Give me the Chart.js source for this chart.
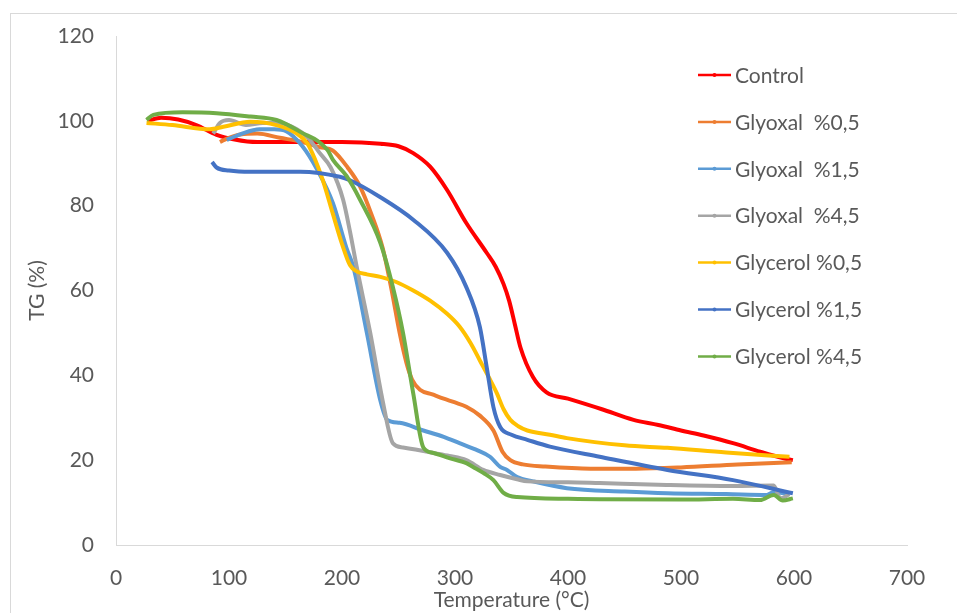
<!DOCTYPE html>
<html>
<head>
<meta charset="utf-8">
<script src="https://cdn.jsdelivr.net/npm/chart.js@4/dist/chart.umd.min.js"></script>
<style>
  html, body { margin: 0; padding: 0; background: #fff; }
  #wrap { position: relative; width: 957px; height: 613px; }
  #frame { position: absolute; left: 10px; top: 13px; width: 960px; height: 620px; border: 1px solid #d9d9d9; box-sizing: border-box; }
  canvas { position: absolute; left: 0; top: 0; }
</style>
</head>
<body>
<div id="wrap">
  <div id="frame"></div>
  <canvas id="tgChart" width="957" height="613"></canvas>
</div>
<script>
const seriesNames = ["Control", "Glyoxal  %0,5", "Glyoxal  %1,5", "Glyoxal  %4,5", "Glycerol %0,5", "Glycerol %1,5", "Glycerol %4,5"];
const seriesColors = ["#ff0000", "#ed7d31", "#5b9bd5", "#a5a5a5", "#ffc000", "#4472c4", "#70ad47"];

const controlT = [28, 40, 55, 71, 89, 105, 125, 150, 200, 234, 250, 263, 278, 293, 310, 328, 336, 343, 348, 353, 358, 369, 381, 400, 430, 458, 480, 500, 520, 546, 570, 590, 599];
const controlTG = [100, 100.7, 100.3, 99, 96.7, 95.6, 95, 95, 95, 94.6, 94, 92.4, 89.2, 83.7, 75.9, 68.9, 65.6, 61.5, 57.5, 52, 46.5, 39.6, 36, 34.5, 32, 29.5, 28.3, 27, 25.8, 24, 22, 20.5, 20];

const glyoxal05T = [92, 100, 110, 125, 145, 165, 180, 192, 205, 216, 226, 236, 244, 251, 257, 262, 269, 280, 290, 300, 310, 322, 334, 342, 349, 360, 380, 420, 460, 500, 550, 598];
const glyoxal05TG = [95, 96, 96.8, 97, 96, 95, 93.8, 93, 89, 84.5, 78, 70, 60, 50, 43, 39, 36.6, 35.5, 34.5, 33.6, 32.6, 30.5, 27, 22, 20, 19, 18.5, 18, 18, 18.3, 19, 19.5];

const glyoxal15T = [98, 110, 127, 140, 151, 165, 178, 192, 204, 210, 222, 234, 240, 251, 272, 290, 304, 320, 331, 340, 346, 355, 369, 399, 450, 488, 540, 576, 582, 595];
const glyoxal15TG = [95.5, 96.8, 98, 98, 97.5, 94, 88.5, 80.6, 70, 65.6, 50, 34, 29.5, 28.8, 27, 25.5, 24, 22.3, 20.8, 18.4, 17.7, 16, 15, 13.4, 12.6, 12.2, 12, 11.8, 12.5, 12];

const glyoxal45T = [86, 92, 100, 115, 130, 145, 160, 170, 180, 190, 201, 207, 213, 225, 236, 245, 254, 265, 281, 295, 310, 325, 340, 355, 364, 400, 428, 480, 546, 582, 588, 596];
const glyoxal45TG = [97, 99.5, 100.2, 99, 99.5, 99.5, 98, 96, 92.5, 89, 81.4, 74, 65.6, 50, 34, 24, 23, 22.5, 21.7, 21, 20, 17.7, 16.5, 15.5, 15, 14.8, 14.6, 14.2, 13.9, 14, 11, 12];

const glycerol05T = [27, 50, 83, 95, 119, 142, 160, 169, 176, 183, 192, 200, 207, 213, 222, 234, 248, 263, 278, 293, 304, 314, 322, 330, 337, 343, 349, 356, 364, 384, 399, 450, 488, 540, 596];
const glycerol05TG = [99.5, 99, 98, 98.6, 99.8, 99, 97, 94.8, 91, 86, 78, 71, 66, 64.5, 63.8, 63.2, 62, 60, 57.6, 54.5, 51.5, 47.5, 43.5, 39.5, 35.8, 32, 29.5, 28, 27, 26, 25.2, 23.5, 22.9, 21.8, 20.8];

const glycerol15T = [85, 89, 100, 119, 163, 198, 207, 234, 263, 293, 310, 322, 328, 334, 340, 350, 364, 384, 428, 488, 546, 599];
const glycerol15TG = [90.3, 89, 88.3, 88, 88, 86.8, 86, 82, 76.7, 68.9, 60.8, 51.4, 42, 32.5, 27.8, 26, 24.8, 23.2, 20.8, 17.7, 15.3, 12.2];

const glycerol45T = [27, 33, 59, 89, 119, 142, 163, 187, 192, 204, 216, 234, 245, 254, 263, 272, 281, 295, 310, 316, 325, 334, 343, 355, 400, 428, 500, 546, 570, 582, 590, 599];
const glycerol45TG = [100.2, 101.4, 102, 101.8, 101, 100.2, 97.4, 93.2, 90.8, 87, 81.4, 71.2, 60.8, 50, 35.8, 23, 21.7, 20.5, 19.3, 18.4, 17, 15.3, 12.3, 11.3, 10.9, 10.8, 10.7, 10.9, 10.6, 11.8, 10.5, 11];

const xTicks = [0, 100, 200, 300, 400, 500, 600, 700];
const yTicks = [0, 20, 40, 60, 80, 100, 120];

const allT = [controlT, glyoxal05T, glyoxal15T, glyoxal45T, glycerol05T, glycerol15T, glycerol45T];
const allTG = [controlTG, glyoxal05TG, glyoxal15TG, glyoxal45TG, glycerol05TG, glycerol15TG, glycerol45TG];

function toPoints(xs, ys) {
  return xs.map((x, i) => ({ x: x, y: ys[i] }));
}

const textColor = "#595959";
const fontFamily = "Lato, 'Open Sans', sans-serif";

// legend drawn inside the plot, like the Excel one
const sideLegend = {
  id: "sideLegend",
  afterDraw(chart) {
    const ctx = chart.ctx;
    ctx.save();
    ctx.font = "21px " + fontFamily;
    ctx.textBaseline = "middle";
    seriesNames.forEach((name, i) => {
      const y = 75 + i * 46.9;
      ctx.strokeStyle = seriesColors[i];
      ctx.lineWidth = 2.5;
      ctx.beginPath();
      ctx.moveTo(698, y);
      ctx.lineTo(731, y);
      ctx.stroke();
      ctx.fillStyle = seriesColors[i];
      ctx.beginPath();
      ctx.arc(714.5, y, 2, 0, Math.PI * 2);
      ctx.fill();
      ctx.fillStyle = textColor;
      ctx.fillText(name, 735, y + 1);
    });
    ctx.restore();
  }
};

new Chart(document.getElementById("tgChart"), {
  type: "line",
  data: {
    datasets: seriesNames.map((name, i) => ({
      label: name,
      data: toPoints(allT[i], allTG[i]),
      borderColor: seriesColors[i],
      backgroundColor: seriesColors[i],
      borderWidth: 4,
      pointRadius: 0,
      cubicInterpolationMode: "monotone",
      fill: false,
      order: seriesNames.length - i,
    })),
  },
  options: {
    responsive: false,
    animation: false,
    events: [],
    layout: { padding: { left: 0, right: 50, top: 36, bottom: 0 } },
    plugins: {
      legend: { display: false },
      tooltip: { enabled: false },
    },
    scales: {
      x: {
        type: "linear",
        min: 0,
        max: 700,
        afterBuildTicks: (axis) => { axis.ticks = xTicks.map((v) => ({ value: v })); },
        afterFit: (axis) => { axis.height = 68; },
        grid: { display: false, drawTicks: false },
        border: { display: true, color: "#d9d9d9", width: 1 },
        ticks: { color: textColor, font: { family: fontFamily, size: 21 }, padding: 21 },
        title: { display: true, text: "Temperature (°C)", color: textColor, font: { family: fontFamily, size: 21 }, padding: { top: 0, bottom: 0 } },
      },
      y: {
        min: 0,
        max: 120,
        afterBuildTicks: (axis) => { axis.ticks = yTicks.map((v) => ({ value: v })); },
        afterFit: (axis) => { axis.width = 116; },
        grid: { display: false, drawTicks: false },
        border: { display: true, color: "#d9d9d9", width: 1 },
        ticks: { color: textColor, font: { family: fontFamily, size: 21 }, padding: 22 },
        title: { display: true, text: "TG (%)", color: textColor, font: { family: fontFamily, size: 21 }, padding: { top: 25, bottom: 0 } },
      },
    },
  },
  plugins: [sideLegend],
});
</script>
</body>
</html>
